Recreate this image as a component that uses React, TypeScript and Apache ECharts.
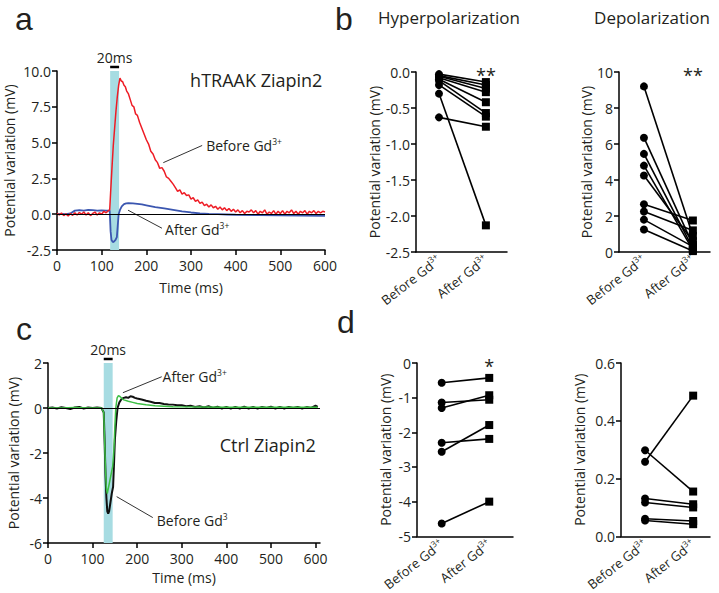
import React, { useEffect, useRef } from "react";
import * as echarts from "echarts";

const FONT = "'Open Sans', 'DejaVu Sans', sans-serif";
const LETTER_FONT = "'Liberation Sans', Arial, sans-serif";
const TXT = "#231f20";

// ---- Panel a: hTRAAK Ziapin2 traces (time ms, mV)
const A_BEFORE: [number, number][] = [
  [0, 0.05], [5, -0.05], [10, 0.08], [15, -0.1], [20, 0.02], [25, -0.12], [30, 0.05], [35, -0.08], [40, 0.1], [45, -0.05],
  [50, 0.12], [55, 0.0], [60, 0.15], [65, -0.05], [70, 0.1], [75, -0.1], [80, 0.05], [85, 0.15], [90, -0.05], [95, 0.1],
  [100, 0.0], [105, 0.2], [110, 0.1], [115, 0.25], [118, 0.3], [120, 1.5], [123, 3.2], [126, 4.8], [129, 6.0], [132, 7.2],
  [135, 8.2], [138, 9.0], [141, 9.5], [144, 9.3], [147, 9.25], [150, 9.0], [153, 8.9], [156, 8.6], [160, 8.4], [164, 8.0],
  [168, 7.6], [172, 7.5], [176, 7.0], [180, 6.9], [185, 6.4], [190, 6.0], [195, 5.6], [200, 5.2], [205, 4.9], [210, 4.4],
  [215, 4.2], [220, 3.8], [225, 3.6], [230, 3.2], [235, 3.25], [240, 3.0], [245, 2.6], [250, 2.5], [255, 2.3], [260, 2.1],
  [265, 1.85], [270, 1.6], [275, 1.7], [280, 1.4], [285, 1.5], [290, 1.3], [295, 1.35], [300, 1.05], [305, 1.15], [310, 0.9],
  [315, 1.0], [320, 0.75], [325, 0.85], [330, 0.6], [335, 0.7], [340, 0.5], [345, 0.65], [350, 0.45], [355, 0.55], [360, 0.35],
  [365, 0.5], [370, 0.3], [375, 0.45], [380, 0.25], [385, 0.4], [390, 0.2], [395, 0.35], [400, 0.15], [405, 0.3], [410, 0.1],
  [415, 0.25], [420, 0.05], [425, 0.2], [430, 0.15], [435, 0.3], [440, 0.1], [445, 0.25], [450, 0.0], [455, 0.2], [460, 0.1],
  [465, 0.3], [470, 0.0], [475, 0.15], [480, 0.05], [485, 0.25], [490, 0.0], [495, 0.2], [500, 0.05], [505, 0.25], [510, 0.0],
  [515, 0.2], [520, 0.1], [525, 0.3], [530, 0.05], [535, 0.2], [540, 0.0], [545, 0.2], [550, 0.1], [555, 0.25], [560, 0.0],
  [565, 0.2], [570, 0.1], [575, 0.25], [580, 0.05], [585, 0.2], [590, 0.1], [595, 0.2], [600, 0.15],
];
const A_AFTER: [number, number][] = [
  [0, 0.0], [10, 0.02], [20, 0.0], [30, 0.05], [40, 0.25], [50, 0.28], [60, 0.25], [70, 0.3], [80, 0.28], [90, 0.25],
  [100, 0.27], [110, 0.25], [118, 0.25], [120, -1.2], [122, -1.8], [125, -1.95], [128, -1.9], [131, -1.8], [134, -1.6],
  [136, -0.8], [138, 0.0], [141, 0.3], [145, 0.55], [150, 0.7], [155, 0.75], [160, 0.78], [170, 0.75], [180, 0.72],
  [190, 0.68], [200, 0.62], [220, 0.5], [240, 0.4], [260, 0.3], [280, 0.2], [300, 0.12], [320, 0.06], [340, 0.02],
  [360, 0.0], [380, -0.02], [400, -0.04], [450, -0.06], [500, -0.08], [550, -0.1], [600, -0.12],
];
const A_STIM = [119, 139];

// ---- Panel c: Ctrl Ziapin2 traces
const C_BEFORE: [number, number][] = [
  [0, 0.0], [10, 0.02], [20, -0.02], [30, 0.03], [40, 0.0], [50, -0.05], [60, 0.02], [70, 0.05], [80, -0.02], [90, 0.02],
  [100, 0.0], [110, 0.02], [120, 0.0], [125, -0.2], [127, -1.5], [129, -3.0], [131, -4.0], [133, -4.6], [135, -4.7],
  [137, -4.6], [140, -4.2], [143, -3.8], [146, -3.5], [148, -2.5], [150, -1.4], [153, -0.6], [156, 0.0], [160, 0.25],
  [165, 0.4], [170, 0.45], [175, 0.48], [180, 0.45], [185, 0.52], [190, 0.5], [195, 0.45], [200, 0.42], [210, 0.38],
  [220, 0.32], [230, 0.28], [240, 0.22], [250, 0.22], [260, 0.18], [270, 0.16], [280, 0.15], [290, 0.12], [300, 0.12],
  [310, 0.08], [320, 0.1], [330, 0.05], [340, 0.08], [350, 0.02], [360, 0.08], [370, 0.0], [380, 0.06], [390, -0.02],
  [400, 0.05], [410, -0.03], [420, 0.05], [430, -0.02], [440, 0.06], [450, -0.02], [460, 0.05], [470, -0.03], [480, 0.05],
  [490, 0.0], [500, 0.06], [510, -0.02], [520, 0.05], [530, -0.02], [540, 0.05], [550, 0.0], [560, 0.05], [570, -0.02],
  [580, 0.04], [590, 0.0], [600, 0.1], [605, 0.05],
];
const C_AFTER: [number, number][] = [
  [0, 0.0], [30, 0.0], [60, 0.02], [90, 0.0], [120, 0.0], [125, -0.2], [127, -1.5], [129, -2.8], [131, -3.6], [133, -3.8],
  [136, -3.5], [139, -3.2], [142, -2.9], [145, -2.6], [148, -1.8], [150, -0.8], [152, 0.0], [155, 0.45], [158, 0.55],
  [162, 0.5], [166, 0.42], [170, 0.36], [180, 0.3], [190, 0.25], [200, 0.2], [220, 0.14], [240, 0.1], [260, 0.08],
  [280, 0.06], [300, 0.05], [350, 0.04], [400, 0.03], [500, 0.03], [600, 0.03], [605, 0.03],
];
const C_STIM = [125, 145];
const C_TIME_TICKS = [0, 100, 200, 300, 400, 500, 600];

// ---- Paired panels
const CATEGORIES = ["Before Gd3+", "After Gd3+"];
const HYPER_BEFORE = [-0.03, -0.05, -0.06, -0.08, -0.1, -0.12, -0.18, -0.3, -0.63];
const HYPER_AFTER = [-0.14, -0.18, -0.23, -0.28, -0.42, -0.57, -0.62, -2.13, -0.76];
const DEPOL_BEFORE = [9.2, 6.35, 5.45, 4.8, 4.25, 2.65, 2.25, 1.8, 1.25];
const DEPOL_AFTER = [0.9, 0.4, 0.2, 0.1, 0.6, 1.75, 1.2, 0.3, 0.05];
const CTRL_HYPER_BEFORE = [-0.57, -1.14, -1.3, -2.3, -2.56, -4.63];
const CTRL_HYPER_AFTER = [-0.43, -1.06, -0.93, -2.19, -1.79, -4.0];
const CTRL_DEPOL_BEFORE = [0.258, 0.298, 0.131, 0.117, 0.061, 0.055];
const CTRL_DEPOL_AFTER = [0.487, 0.155, 0.111, 0.1, 0.053, 0.042];

const supRich = {
  m: { fontSize: 13, fontFamily: FONT, color: TXT, lineHeight: 17 },
  s: { fontSize: 8.5, fontFamily: FONT, color: TXT, lineHeight: 10, verticalAlign: "top" as const },
};
const supText = (s: string) => {
  const m = s.match(/^(.*?)(\d\+?)$/);
  return m ? `{m|${m[1]}}{s|${m[2]}}` : `{m|${s}}`;
};

const axisLineStyle = { color: "#000", width: 1.5 };
const baseLabel = { color: TXT, fontSize: 14, fontFamily: FONT };

function valueYAxis(gridIndex: number, min: number, max: number, interval: number, dec: number, nameGap: number) {
  return {
    type: "value", gridIndex, min, max, interval,
    axisLine: { show: true, onZero: false, lineStyle: axisLineStyle },
    axisTick: { show: true, length: 5, lineStyle: axisLineStyle },
    axisLabel: { ...baseLabel, margin: 6, formatter: (v: number) => v.toFixed(dec) },
    splitLine: { show: false },
    name: "Potential variation (mV)", nameLocation: "middle", nameGap,
    nameTextStyle: { color: TXT, fontSize: 14, fontFamily: FONT },
  };
}

function pairedXAxis(gridIndex: number, min: number, max: number) {
  return {
    type: "value", gridIndex, min, max,
    axisLine: { show: true, onZero: false, lineStyle: axisLineStyle },
    axisTick: { show: false },
    axisLabel: {
      ...baseLabel, rotate: 38, margin: 6, customValues: [0, 1],
      formatter: (v: number) => supText(CATEGORIES[Math.round(v)] ?? ""),
      rich: supRich,
    },
    splitLine: { show: false },
  };
}

function pairedSeries(before: number[], after: number[], axisIndex: number) {
  return before.map((b, i) => ({
    type: "line", xAxisIndex: axisIndex, yAxisIndex: axisIndex, silent: true,
    data: [
      { value: [0, b], symbol: "circle" },
      { value: [1, after[i]], symbol: "rect" },
    ],
    symbolSize: 8, showAllSymbol: true,
    lineStyle: { color: "#000", width: 1.6 },
    itemStyle: { color: "#000" },
  }));
}

const zeroLine = {
  silent: true, symbol: "none", label: { show: false },
  lineStyle: { color: "#000", width: 1, type: "solid" },
  data: [{ yAxis: 0 }],
};

export default function App() {
  const ref = useRef<HTMLDivElement>(null);
  useEffect(() => {
    if (!ref.current) return;
    const chart = echarts.init(ref.current, undefined, { renderer: "svg" });
    const option: any = {
      animation: false,
      grid: [
        { left: 57, top: 71, width: 268, height: 179 },
        { left: 416, top: 72, width: 91, height: 180 },
        { left: 619, top: 72, width: 91, height: 180 },
        { left: 48, top: 363, width: 272, height: 180 },
        { left: 417, top: 363, width: 96, height: 180 },
        { left: 621, top: 363, width: 89, height: 180 },
      ],
      xAxis: [
        {
          type: "value", gridIndex: 0, min: 0, max: 600, interval: 100,
          axisLine: { show: true, onZero: false, lineStyle: axisLineStyle },
          axisTick: { show: true, length: 5, lineStyle: axisLineStyle },
          axisLabel: { ...baseLabel, margin: 8 },
          splitLine: { show: false },
          name: "Time (ms)", nameLocation: "middle", nameGap: 30,
          nameTextStyle: { color: TXT, fontSize: 14, fontFamily: FONT },
        },
        pairedXAxis(1, -0.49, 1.45),
        pairedXAxis(2, -0.51, 1.35),
        {
          type: "value", gridIndex: 3, min: 0, max: 610,
          axisLine: { show: true, onZero: false, lineStyle: axisLineStyle },
          axisTick: { show: true, length: 5, lineStyle: axisLineStyle, customValues: C_TIME_TICKS },
          axisLabel: { ...baseLabel, margin: 8, customValues: C_TIME_TICKS },
          splitLine: { show: false },
          name: "Time (ms)", nameLocation: "middle", nameGap: 27,
          nameTextStyle: { color: TXT, fontSize: 14, fontFamily: FONT },
        },
        pairedXAxis(4, -0.52, 1.5),
        pairedXAxis(5, -0.5, 1.35),
      ],
      yAxis: [
        valueYAxis(0, -2.5, 10, 2.5, 1, 41),
        valueYAxis(1, -2.5, 0, 0.5, 1, 33),
        valueYAxis(2, 0, 10, 2, 0, 23),
        valueYAxis(3, -6, 2, 2, 0, 28),
        valueYAxis(4, -5, 0, 1, 0, 25),
        valueYAxis(5, 0, 0.6, 0.2, 1, 35),
      ],
      series: [
        {
          type: "line", xAxisIndex: 0, yAxisIndex: 0, data: [], z: 1, silent: true,
          markArea: { silent: true, itemStyle: { color: "#a7dce2" }, data: [[{ xAxis: A_STIM[0] }, { xAxis: A_STIM[1] }]] },
          markLine: zeroLine,
        },
        {
          type: "line", xAxisIndex: 0, yAxisIndex: 0, data: A_AFTER, showSymbol: false, silent: true,
          lineStyle: { color: "#3b56b0", width: 1.8 }, z: 3,
        },
        {
          type: "line", xAxisIndex: 0, yAxisIndex: 0, data: A_BEFORE, showSymbol: false, silent: true,
          lineStyle: { color: "#ee1c25", width: 1.5 }, z: 4,
        },
        {
          type: "line", xAxisIndex: 3, yAxisIndex: 3, data: [], z: 1, silent: true,
          markArea: { silent: true, itemStyle: { color: "#a7dce2" }, data: [[{ xAxis: C_STIM[0] }, { xAxis: C_STIM[1] }]] },
          markLine: zeroLine,
        },
        {
          type: "line", xAxisIndex: 3, yAxisIndex: 3, data: C_BEFORE, showSymbol: false, silent: true,
          lineStyle: { color: "#111", width: 2 }, z: 3,
        },
        {
          type: "line", xAxisIndex: 3, yAxisIndex: 3, data: C_AFTER, showSymbol: false, silent: true,
          lineStyle: { color: "#3dbf45", width: 1.5 }, z: 4,
        },
        ...pairedSeries(HYPER_BEFORE, HYPER_AFTER, 1),
        ...pairedSeries(DEPOL_BEFORE, DEPOL_AFTER, 2),
        ...pairedSeries(CTRL_HYPER_BEFORE, CTRL_HYPER_AFTER, 4),
        ...pairedSeries(CTRL_DEPOL_BEFORE, CTRL_DEPOL_AFTER, 5),
      ],
    };
    chart.setOption(option);

    const px = (g: number, x: number, y: number) => chart.convertToPixel({ gridIndex: g } as any, [x, y]) as number[];
    const txt = (x: number, y: number, text: string, size: number, align = "left", family = FONT) => ({
      type: "text", x, y, silent: true,
      style: {
        text, fill: TXT, fontSize: size, fontFamily: family,
        align, verticalAlign: "middle", textAlign: align, textVerticalAlign: "middle",
      },
    });
    const annRich = {
      m: { fontSize: 14, fontFamily: FONT, fill: TXT, lineHeight: 17 },
      s: { fontSize: 8.5, fontFamily: FONT, fill: TXT, lineHeight: 10, verticalAlign: "top" },
    };
    const richTxt = (p: number[], label: string) => ({
      type: "text", x: p[0], y: p[1], silent: true,
      style: { text: supText(label), rich: annRich, align: "left", verticalAlign: "middle", textAlign: "left", textVerticalAlign: "middle" },
    });
    const ln = (p1: number[], p2: number[], w = 1, color = "#333") => ({
      type: "line", silent: true,
      shape: { x1: p1[0], y1: p1[1], x2: p2[0], y2: p2[1] },
      style: { stroke: color, lineWidth: w },
    });

    const aTop = px(0, 0, 10)[1];
    const a1 = px(0, A_STIM[0], 10)[0];
    const a2 = px(0, A_STIM[1], 10)[0];
    const cTop = px(3, 0, 2)[1];
    const c1 = px(3, C_STIM[0], 2)[0];
    const c2 = px(3, C_STIM[1], 2)[0];
    const b1Top = px(1, 1, 0);
    const b2Top = px(2, 1, 10);
    const d1Top = px(4, 1, 0);

    const graphic: any[] = [
      txt(24, 19, "a", 32, "center", LETTER_FONT),
      txt(344, 19, "b", 32, "center", LETTER_FONT),
      txt(24, 329, "c", 32, "center", LETTER_FONT),
      txt(346, 322, "d", 32, "center", LETTER_FONT),
      txt(449, 17, "Hyperpolarization", 17, "center"),
      txt(652, 17, "Depolarization", 17, "center"),
      // panel a
      txt((a1 + a2) / 2, aTop - 14, "20ms", 14, "center"),
      ln([a1, aTop - 4], [a2, aTop - 4], 2.5, "#000"),
      txt(px(0, 298, 9.4)[0], px(0, 298, 9.4)[1], "hTRAAK Ziapin2", 18),
      ln(px(0, 238, 3.6), px(0, 325, 4.8)),
      richTxt(px(0, 334, 4.8), "Before Gd3+"),
      ln(px(0, 159, 0.28), px(0, 235, -0.98)),
      richTxt(px(0, 242, -1.1), "After Gd3+"),
      // asterisks
      txt(b1Top[0], b1Top[1] + 3, "**", 18, "center"),
      txt(b2Top[0], b2Top[1] + 3, "**", 18, "center"),
      txt(d1Top[0], d1Top[1] + 3, "*", 18, "center"),
      // panel c
      txt((c1 + c2) / 2, cTop - 14, "20ms", 14, "center"),
      ln([c1, cTop - 4], [c2, cTop - 4], 2.5, "#000"),
      txt(px(3, 385, -1.63)[0], px(3, 385, -1.63)[1], "Ctrl Ziapin2", 18),
      ln(px(3, 168, 0.68), px(3, 255, 1.39)),
      richTxt(px(3, 257, 1.4), "After Gd3+"),
      ln(px(3, 154, -3.94), px(3, 235, -4.87)),
      richTxt(px(3, 244, -4.98), "Before Gd3"),
    ];
    chart.setOption({ graphic });

    return () => chart.dispose();
  }, []);
  return <div ref={ref} style={{ position: "absolute", left: 0, top: 0, width: 719, height: 593, background: "#fff" }} />;
}
